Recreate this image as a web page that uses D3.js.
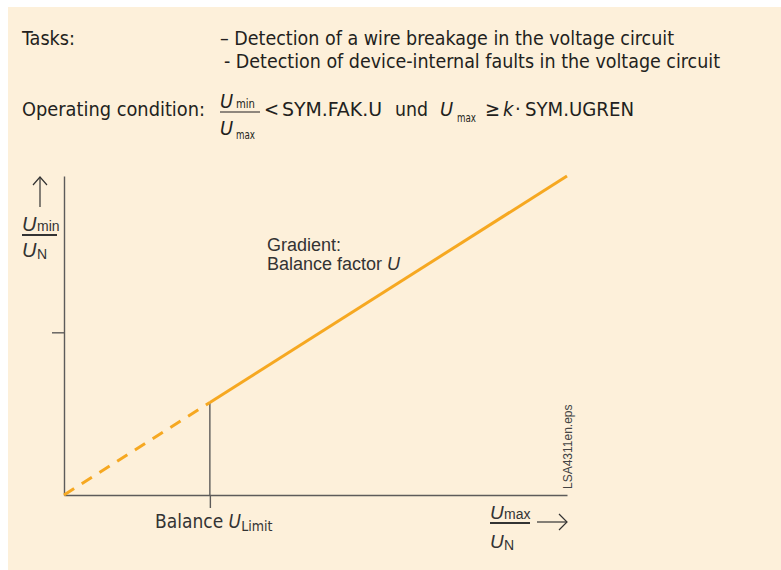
<!DOCTYPE html>
<html>
<head>
<meta charset="utf-8">
<script src="https://cdn.jsdelivr.net/npm/d3@7"></script>
<style>
  html, body { margin: 0; padding: 0; background: #fff; }
  svg { display: block; }
</style>
</head>
<body>
<script>
// ---- data ----
const balanceLimit = 0.29;          // U_Limit on the x axis (fraction of axis)
const balanceFactor = 1.0;          // gradient of the characteristic
const dashedX = [0, balanceLimit];  // below the limit: dashed
const solidX = [balanceLimit, 1.0]; // above the limit: solid
const yTickValues = [0.51];
const xTickValues = [balanceLimit];
const taskLines = [
  "\u2013 Detection of a wire breakage in the voltage circuit",
  "- Detection of device-internal faults in the voltage circuit"
];

const W = 781, H = 570;
const svg = d3.select("body").append("svg").attr("width", W).attr("height", H);

svg.append("rect").attr("x", 8).attr("y", 7).attr("width", W - 8).attr("height", H - 7)
  .attr("fill", "#FDF0DA");

const condFont = "'Liberation Sans Narrow','DejaVu Sans Condensed','Liberation Sans',sans-serif";
const chartFont = "'Liberation Sans','DejaVu Sans',sans-serif";
const dark = "#231f20";

function txt(x, y, s, opts = {}) {
  const t = svg.append("text").attr("x", x).attr("y", y).text(s)
    .attr("font-family", opts.font || condFont)
    .attr("font-size", opts.size || 20)
    .attr("fill", opts.fill || dark);
  if (opts.italic) t.attr("font-style", "italic");
  if (opts.len) t.attr("textLength", opts.len).attr("lengthAdjust", "spacingAndGlyphs");
  if (opts.ws) t.attr("xml:space", "preserve").style("white-space", "pre");
  return t;
}

// ---- header ----
txt(22, 45, "Tasks:", { len: 53 });
txt(220, 45, taskLines[0], { len: 454 });
txt(224, 68, taskLines[1], { len: 496 });
txt(22, 116, "Operating condition:", { len: 183 });
// fraction Umin / Umax
txt(220, 108, "U", { italic: true, size: 20 });
txt(236, 108, "min", { size: 12, len: 19 });
svg.append("line").attr("x1", 220).attr("x2", 260).attr("y1", 112).attr("y2", 112)
  .attr("stroke", dark).attr("stroke-width", 1.2);
txt(220, 135, "U", { italic: true, size: 20 });
txt(236, 139, "max", { size: 12, len: 19 });
txt(264, 116, "<", { size: 20 });
txt(282, 116, "SYM.FAK.U", { len: 100 });
txt(395, 116, "und", { len: 33 });
txt(440, 116, "U", { italic: true, size: 20 });
txt(457, 122, "max", { size: 12, len: 19 });
txt(485, 116, "\u2265", { size: 20 });
txt(503, 116, "k", { italic: true, size: 20 });
txt(515, 116, "\u00b7", { size: 20 });
txt(525, 116, "SYM.UGREN", { len: 109 });

// ---- chart ----
const x = d3.scaleLinear().domain([0, 1]).range([64, 567]);
const y = d3.scaleLinear().domain([0, 1]).range([495, 176]);
const axisColor = "#5d5b5a";

const gy = svg.append("g").attr("transform", `translate(${x(0)},0)`)
  .call(d3.axisLeft(y).tickValues(yTickValues).tickSize(12).tickSizeOuter(0).tickFormat(""));
const gx = svg.append("g").attr("transform", `translate(0,${y(0)})`)
  .call(d3.axisBottom(x).tickValues(xTickValues).tickSize(13).tickSizeOuter(0).tickFormat(""));
[gy, gx].forEach(g => {
  g.selectAll("path,line").attr("stroke", axisColor).attr("stroke-width", 1.4);
});

// vertical line at the balance limit
svg.append("line")
  .attr("x1", x(balanceLimit)).attr("x2", x(balanceLimit))
  .attr("y1", y(balanceFactor * balanceLimit)).attr("y2", y(0))
  .attr("stroke", axisColor).attr("stroke-width", 1.4);

const line = d3.line().x(d => x(d)).y(d => y(balanceFactor * d));
const orange = "#F6A821";
svg.append("path").datum(dashedX).attr("d", line)
  .attr("fill", "none").attr("stroke", orange).attr("stroke-width", 3)
  .attr("stroke-dasharray", "12,9");
svg.append("path").datum(solidX).attr("d", line)
  .attr("fill", "none").attr("stroke", orange).attr("stroke-width", 3);

// chart annotations
const grey = "#333333";
txt(267, 251, "Gradient:", { font: chartFont, size: 18, fill: grey });
const bf = txt(267, 270, "Balance factor ", { font: chartFont, size: 18, fill: grey, ws: true });
bf.append("tspan").attr("font-style", "italic").text("U");

const bl = txt(155, 528, "Balance ", { font: condFont, size: 19, fill: grey, ws: true });
bl.append("tspan").attr("font-style", "italic").text("U");
bl.append("tspan").attr("font-size", 14).attr("dy", 3).text("Limit");

// y axis label
svg.append("line").attr("x1", 40).attr("x2", 40).attr("y1", 207).attr("y2", 177)
  .attr("stroke", grey).attr("stroke-width", 1.2);
svg.append("polyline").attr("points", "33,185 40,177 47,185")
  .attr("fill", "none").attr("stroke", grey).attr("stroke-width", 1.2);
txt(22, 231, "U", { font: chartFont, italic: true, size: 20, fill: grey });
txt(37, 231, "min", { font: chartFont, size: 14, fill: grey });
svg.append("line").attr("x1", 22).attr("x2", 57).attr("y1", 235).attr("y2", 235)
  .attr("stroke", grey).attr("stroke-width", 1.8);
txt(22, 257, "U", { font: chartFont, italic: true, size: 20, fill: grey });
txt(37, 259, "N", { font: chartFont, size: 14, fill: grey });

// x axis label
txt(490, 519, "U", { font: chartFont, italic: true, size: 19, fill: grey });
txt(504, 519, "max", { font: chartFont, size: 14, fill: grey });
svg.append("line").attr("x1", 490).attr("x2", 530).attr("y1", 523).attr("y2", 523)
  .attr("stroke", grey).attr("stroke-width", 1.8);
txt(490, 548, "U", { font: chartFont, italic: true, size: 19, fill: grey });
txt(504, 550, "N", { font: chartFont, size: 14, fill: grey });
svg.append("line").attr("x1", 537).attr("x2", 567).attr("y1", 522).attr("y2", 522)
  .attr("stroke", grey).attr("stroke-width", 1.2);
svg.append("polyline").attr("points", "559,514 567,522 559,530")
  .attr("fill", "none").attr("stroke", grey).attr("stroke-width", 1.2);

// file tag
svg.append("text").attr("transform", "translate(572,489) rotate(-90)")
  .attr("font-family", chartFont).attr("font-size", 12).attr("fill", "#444")
  .text("LSA4311en.eps");
</script>
</body>
</html>
